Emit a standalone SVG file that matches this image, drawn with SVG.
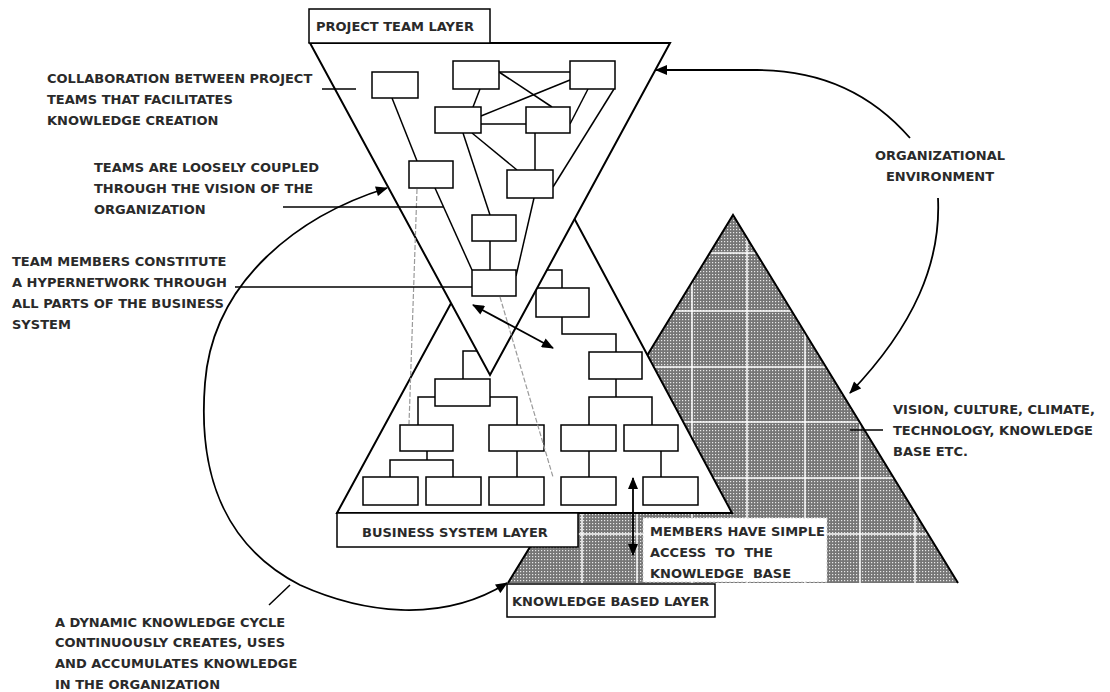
<svg xmlns="http://www.w3.org/2000/svg" width="1110" height="692" viewBox="0 0 1110 692">
<style>
.t{font-family:"DejaVu Sans",sans-serif;font-weight:bold;font-size:13px;fill:#2a2a2a;white-space:pre}
.box{fill:#fff;stroke:#000;stroke-width:1.5}
.ln{fill:none;stroke:#000;stroke-width:1.5}
.tri{fill:#fff;stroke:#000;stroke-width:2;stroke-linejoin:miter}
.dash{fill:none;stroke:#9a9a9a;stroke-width:1.2;stroke-dasharray:5 2}
.arr{fill:none;stroke:#000;stroke-width:1.8}
.grid{stroke:#fff;stroke-width:1.5}
</style>
<defs>
<pattern id="dots" width="3" height="3" patternUnits="userSpaceOnUse">
<rect width="3" height="3" fill="#767676"/>
<rect x="1" y="1" width="1.2" height="1.2" fill="#e8e8e8"/>
</pattern>
<marker id="ah" viewBox="0 0 12 10" refX="11" refY="5" markerWidth="13" markerHeight="10" markerUnits="userSpaceOnUse" orient="auto-start-reverse">
<path d="M0,0 L12,5 L0,10 z" fill="#000"/>
</marker>
<clipPath id="kclip"><polygon points="733,215 958,583 508,583"/></clipPath>
</defs>

<g id="knowledge-base">
<polygon points="733,215 958,583 508,583" fill="url(#dots)"/>
<g clip-path="url(#kclip)" class="grid">
<line x1="582" y1="200" x2="582" y2="600"/>
<line x1="637" y1="200" x2="637" y2="600"/>
<line x1="692" y1="200" x2="692" y2="600"/>
<line x1="747" y1="200" x2="747" y2="600"/>
<line x1="805" y1="200" x2="805" y2="600"/>
<line x1="860" y1="200" x2="860" y2="600"/>
<line x1="915" y1="200" x2="915" y2="600"/>
<line x1="500" y1="253" x2="970" y2="253"/>
<line x1="500" y1="311" x2="970" y2="311"/>
<line x1="500" y1="367" x2="970" y2="367"/>
<line x1="500" y1="422" x2="970" y2="422"/>
<line x1="500" y1="478" x2="970" y2="478"/>
<line x1="500" y1="534" x2="970" y2="534"/>
</g>
<polyline points="508,583 733,215 958,583" fill="none" stroke="#000" stroke-width="2"/>
</g>

<g id="members-note">
<rect x="643" y="518" width="184" height="64" fill="#fff" stroke="#cfcfcf" stroke-width="1" stroke-dasharray="2 2"/>
<text class="t" x="650" y="536">MEMBERS HAVE SIMPLE</text>
<text class="t" x="650" y="557">ACCESS  TO  THE</text>
<text class="t" x="650" y="578">KNOWLEDGE  BASE</text>
</g>

<g id="knowledge-layer-label">
<rect class="box" x="507" y="584" width="208" height="33"/>
<text class="t" x="512" y="606">KNOWLEDGE BASED LAYER</text>
</g>

<g id="business-system">
<polygon class="tri" points="337,513 536,147 732,513"/>
<g class="ln">
<path d="M463,379 V351 H482"/>
<path d="M435,397 H418 V425"/>
<path d="M490,397 H517 V425"/>
<path d="M427,451 V460"/>
<path d="M390,477 V460 H453 V477"/>
<path d="M517,451 V477"/>
<path d="M562,288 V270 H545"/>
<path d="M562,317 V334 H616 V352"/>
<path d="M616,379 V397"/>
<path d="M589,425 V397 H652 V425"/>
<path d="M589,451 V477"/>
<path d="M661,451 V477"/>
</g>
<rect class="box" x="435" y="379" width="55" height="27"/>
<rect class="box" x="400" y="425" width="53" height="26"/>
<rect class="box" x="489" y="425" width="55" height="26"/>
<rect class="box" x="363" y="477" width="55" height="28"/>
<rect class="box" x="426" y="477" width="55" height="28"/>
<rect class="box" x="489" y="477" width="55" height="28"/>
<rect class="box" x="536" y="288" width="53" height="29"/>
<rect class="box" x="589" y="352" width="53" height="27"/>
<rect class="box" x="561" y="425" width="55" height="26"/>
<rect class="box" x="624" y="425" width="54" height="26"/>
<rect class="box" x="561" y="477" width="55" height="28"/>
<rect class="box" x="643" y="477" width="55" height="28"/>
</g>

<g id="project-team">
<polygon class="tri" points="310,43 670,43 490,375"/>
<g class="ln">
<line x1="499" y1="72" x2="570" y2="72"/>
<line x1="499" y1="72" x2="552" y2="107"/>
<line x1="570" y1="80" x2="481" y2="116"/>
<line x1="480" y1="89" x2="473" y2="107"/>
<line x1="481" y1="124" x2="526" y2="124"/>
<line x1="588" y1="89" x2="570" y2="124"/>
<line x1="535" y1="133" x2="535" y2="170"/>
<line x1="472" y1="133" x2="517" y2="170"/>
<line x1="614" y1="89" x2="553" y2="187"/>
<line x1="392" y1="98" x2="417" y2="161"/>
<line x1="463" y1="133" x2="490" y2="215"/>
<line x1="435" y1="188" x2="472" y2="270"/>
<line x1="534" y1="198" x2="516" y2="276"/>
<line x1="490" y1="241" x2="490" y2="270"/>
</g>
<rect class="box" x="372" y="72" width="46" height="26"/>
<rect class="box" x="453" y="61" width="46" height="28"/>
<rect class="box" x="570" y="61" width="45" height="28"/>
<rect class="box" x="435" y="107" width="46" height="26"/>
<rect class="box" x="526" y="107" width="44" height="26"/>
<rect class="box" x="409" y="161" width="44" height="27"/>
<rect class="box" x="507" y="170" width="46" height="28"/>
<rect class="box" x="472" y="215" width="44" height="26"/>
<rect class="box" x="472" y="270" width="44" height="26"/>
</g>

<g id="project-layer-label">
<rect class="box" x="309" y="9" width="181" height="34"/>
<text class="t" x="316" y="31">PROJECT TEAM LAYER</text>
</g>

<g id="business-layer-label">
<rect class="box" x="337" y="513" width="241" height="34"/>
<text class="t" x="362" y="537">BUSINESS SYSTEM LAYER</text>
</g>

<g id="connectors">
<line class="dash" x1="417" y1="189" x2="409" y2="424"/>
<line class="dash" x1="500" y1="297" x2="553" y2="477"/>
<line class="arr" x1="473" y1="305" x2="553" y2="348" marker-start="url(#ah)" marker-end="url(#ah)"/>
<line class="arr" x1="633" y1="478" x2="633" y2="555" marker-start="url(#ah)" marker-end="url(#ah)"/>
<path class="arr" d="M387,188 C300,215 213,280 205,383 C198,470 222,545 300,585 C360,612 440,625 507,583" marker-start="url(#ah)" marker-end="url(#ah)"/>
<path class="arr" d="M910,138 C870,92 820,70 757,70 L656,70" marker-end="url(#ah)"/>
<path class="arr" d="M938,198 C941,262 915,325 850,393" marker-end="url(#ah)"/>
<g class="ln">
<line x1="322" y1="89" x2="356" y2="89"/>
<line x1="283" y1="207" x2="443" y2="207"/>
<line x1="235" y1="287" x2="472" y2="287"/>
<line x1="269" y1="605" x2="290" y2="585"/>
<line x1="850" y1="430" x2="883" y2="430"/>
</g>
</g>

<g id="labels">
<text class="t" x="47" y="83">COLLABORATION BETWEEN PROJECT</text>
<text class="t" x="47" y="104">TEAMS THAT FACILITATES</text>
<text class="t" x="47" y="125">KNOWLEDGE CREATION</text>
<text class="t" x="94" y="172">TEAMS ARE LOOSELY COUPLED</text>
<text class="t" x="94" y="193">THROUGH THE VISION OF THE</text>
<text class="t" x="94" y="214">ORGANIZATION</text>
<text class="t" x="12" y="266">TEAM MEMBERS CONSTITUTE</text>
<text class="t" x="12" y="287">A HYPERNETWORK THROUGH</text>
<text class="t" x="12" y="308">ALL PARTS OF THE BUSINESS</text>
<text class="t" x="12" y="329">SYSTEM</text>
<text class="t" x="55" y="627">A DYNAMIC KNOWLEDGE CYCLE</text>
<text class="t" x="55" y="647">CONTINUOUSLY CREATES, USES</text>
<text class="t" x="55" y="668">AND ACCUMULATES KNOWLEDGE</text>
<text class="t" x="55" y="689">IN THE ORGANIZATION</text>
<text class="t" x="940" y="160" text-anchor="middle">ORGANIZATIONAL</text>
<text class="t" x="940" y="181" text-anchor="middle">ENVIRONMENT</text>
<text class="t" x="893" y="414">VISION, CULTURE, CLIMATE,</text>
<text class="t" x="893" y="435">TECHNOLOGY, KNOWLEDGE</text>
<text class="t" x="893" y="456">BASE ETC.</text>
</g>
</svg>
